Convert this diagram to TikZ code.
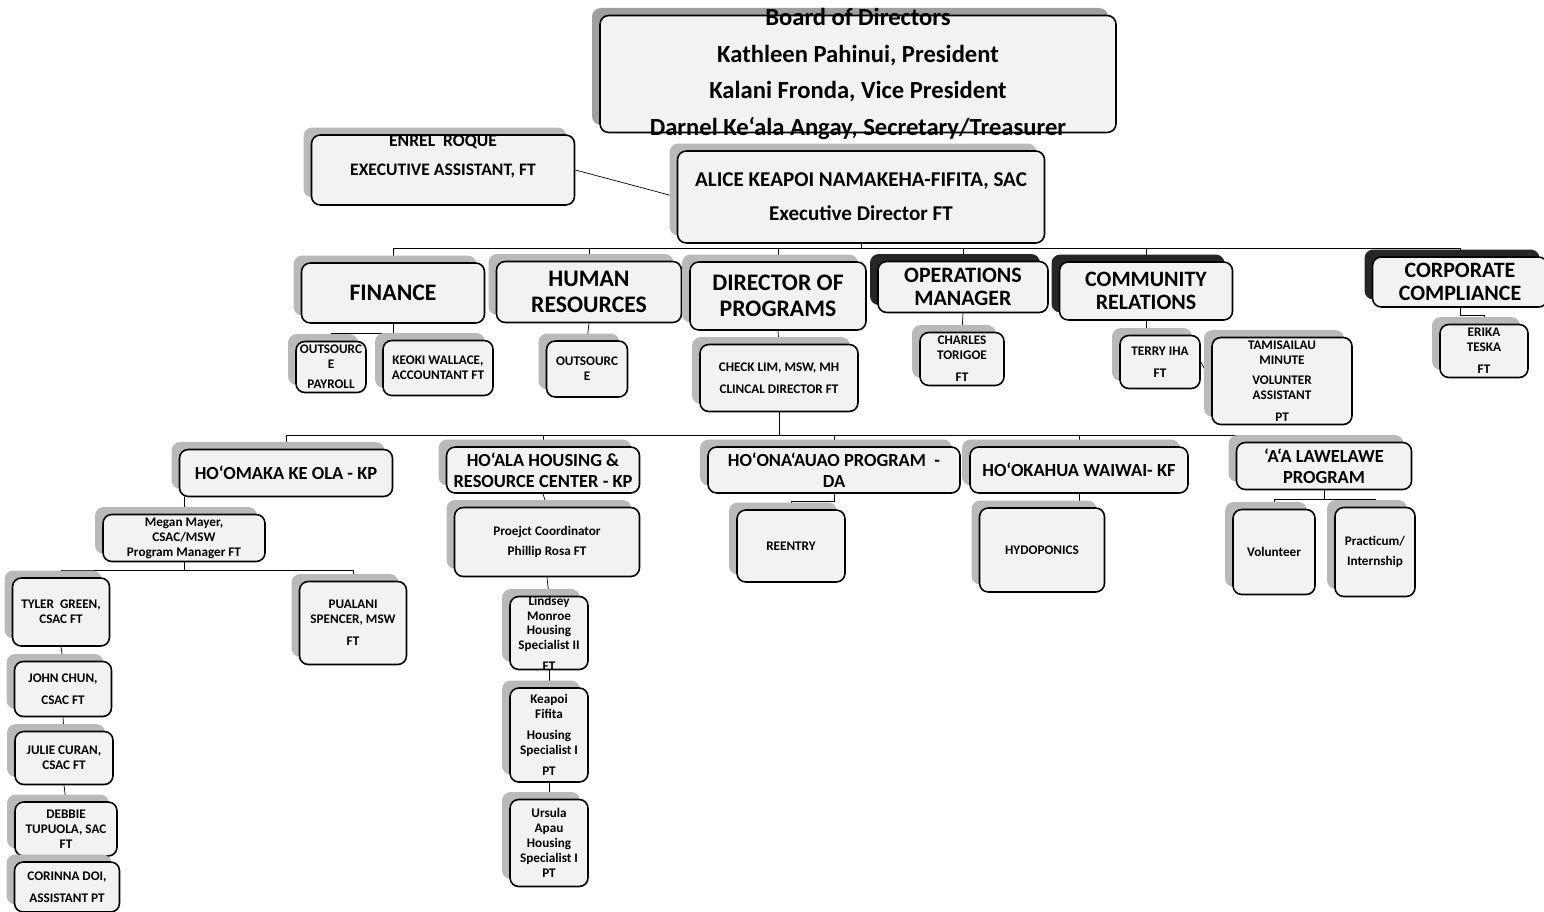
\documentclass[tikz,border=0pt]{standalone}
\usepackage{fontspec}
\setmainfont{Carlito}
\usetikzlibrary{shadows,backgrounds}
\begin{document}
\begin{tikzpicture}[x=0.02cm, y=-0.02cm,
    box/.style={draw, line width=0.9pt, rounded corners=5pt, fill=gray!10, align=center, inner sep=0pt,
      drop shadow={shadow xshift=-0.16cm, shadow yshift=0.15cm, fill=#1, opacity=1}},
    box/.default=gray!55,
    sz/.style 2 args={minimum width=#1*0.02cm, minimum height=#2*0.02cm},
    fboard/.style={font=\fontsize{14}{21}\selectfont\bfseries},
    fexec/.style={font=\fontsize{12}{19.5}\selectfont\bfseries},
    fsub/.style={font=\fontsize{10}{16.5}\selectfont\bfseries},
    flvl/.style={font=\fontsize{13.5}{15}\selectfont\bfseries},
    fmgr/.style={font=\fontsize{12.5}{13.5}\selectfont\bfseries},
    fprog/.style={font=\fontsize{10.5}{12}\selectfont\bfseries},
    fsmall/.style={font=\fontsize{7.5}{8.5}\selectfont\bfseries},
    link/.style={line width=0.85pt}]
  \useasboundingbox (0,0) rectangle (1544,912);
  % Board and executive
  \node[box=gray!75, sz={516}{117}, inner ysep=-8pt, fboard] (board) at (858,74)
    {Board of Directors\\Kathleen Pahinui, President\\Kalani Fronda, Vice President\\Darnel Ke`ala Angay, Secretary/Treasurer};
  \node[box, sz={263}{70}, inner ysep=-3pt, fsub] (enrel) at (443,170) {ENREL\ \ ROQUE\\EXECUTIVE ASSISTANT, FT\\\mbox{}};
  \node[box, sz={367}{92}, fexec] (alice) at (861,197) {ALICE KEAPOI NAMAKEHA-FIFITA, SAC\\Executive Director FT};
  % Departments
  \node[box, sz={183}{60}, flvl] (finance) at (393,293) {FINANCE};
  \node[box, sz={185}{61}, flvl] (hr) at (589,292) {HUMAN\\RESOURCES};
  \node[box, sz={176}{68}, flvl] (dirprog) at (778,296) {DIRECTOR OF\\PROGRAMS};
  \node[box=black!85, sz={170}{51}, fmgr] (ops) at (963,287) {OPERATIONS\\MANAGER};
  \node[box=black!85, sz={173}{58}, fmgr] (comm) at (1146,291) {COMMUNITY\\RELATIONS};
  \node[box=black!85, sz={175}{50}, fmgr] (corp) at (1460,282) {CORPORATE\\COMPLIANCE};
  % Department staff
  \node[box, sz={70}{51}, fsmall] (outsrc1) at (331,367) {OUTSOURC\\E\\[3pt]PAYROLL};
  \node[box, sz={110}{55}, fsmall] (keoki) at (438,368) {KEOKI WALLACE,\\ACCOUNTANT FT};
  \node[box, sz={81}{56}, fsmall] (outsrc2) at (587,369) {OUTSOURC\\E};
  \node[box, sz={158}{67}, fsmall] (checklim) at (779,378) {CHECK LIM, MSW, MH\\[4pt]CLINCAL DIRECTOR FT};
  \node[box, sz={84}{53}, fsmall] (charles) at (962,359) {CHARLES\\TORIGOE\\[4pt]FT};
  \node[box, sz={80}{53}, fsmall] (terry) at (1160,362) {TERRY IHA\\[4pt]FT};
  \node[box, sz={140}{87}, fsmall] (tamis) at (1282,381) {TAMISAILAU\\MINUTE\\[3pt]VOLUNTER\\ASSISTANT\\[4pt]PT};
  \node[box, sz={88}{53}, fsmall] (erika) at (1484,351) {ERIKA\\TESKA\\[4pt]FT};
  % Programs
  \node[box, sz={213}{47}, fprog] (homaka) at (286,473) {HO`OMAKA KE OLA - KP};
  \node[box, sz={193}{46}, fprog] (hoala) at (543,470) {HO`ALA HOUSING \&\\RESOURCE CENTER - KP};
  \node[box, sz={252}{46}, fprog] (hona) at (834,470) {HO`ONA`AUAO PROGRAM\ \ -\\DA};
  \node[box, sz={218}{46}, fprog] (hokahua) at (1079,470) {HO`OKAHUA WAIWAI- KF};
  \node[box, sz={175}{47}, fprog] (aalaw) at (1324,466) {`A`A LAWELAWE\\PROGRAM};
  % Program staff
  \node[box, sz={162}{47}, fsmall] (megan) at (184,538) {Megan Mayer,\\CSAC/MSW\\Program Manager FT};
  \node[box, sz={185}{69}, fsmall] (phillip) at (547,542) {Proejct Coordinator\\[3pt]Phillip Rosa FT};
  \node[box, sz={108}{72}, fsmall] (reentry) at (791,546) {REENTRY};
  \node[box, sz={125}{84}, fsmall] (hydro) at (1042,550) {HYDOPONICS};
  \node[box, sz={82}{85}, fsmall] (volunteer) at (1274,552) {Volunteer};
  \node[box, sz={80}{89}, fsmall] (practicum) at (1375,552) {Practicum/\\[3pt]Internship};
  \node[box, sz={97}{68}, fsmall] (tyler) at (61,612) {TYLER\ \ GREEN,\\CSAC FT};
  \node[box, sz={107}{83}, fsmall] (pualani) at (353,623) {PUALANI\\SPENCER, MSW\\[4pt]FT};
  \node[box, sz={97}{55}, fsmall] (john) at (63,689) {JOHN CHUN,\\[4pt]CSAC FT};
  \node[box, sz={98}{53}, fsmall] (julie) at (64,758) {JULIE CURAN,\\CSAC FT};
  \node[box, sz={102}{54}, fsmall] (debbie) at (66,829) {DEBBIE\\TUPUOLA, SAC\\FT};
  \node[box, sz={105}{50}, fsmall] (corinna) at (67,887) {CORINNA DOI,\\[4pt]ASSISTANT PT};
  \node[box, sz={78}{73}, inner ysep=-2pt, fsmall] (lindsey) at (549,633) {Lindsey\\Monroe\\Housing\\Specialist II\\[3pt]FT};
  \node[box, sz={78}{94}, inner ysep=-2pt, fsmall] (keapoi) at (549,735) {Keapoi\\Fifita\\[3.5pt]Housing\\Specialist I\\[3.5pt]PT};
  \node[box, sz={78}{87}, inner ysep=-2pt, fsmall] (ursula) at (549,843) {Ursula\\Apau\\Housing\\Specialist I\\PT};
  % Connectors
  \begin{scope}[on background layer, link]
    \coordinate (mainbus) at (861,248);
    \coordinate (finbus) at (393,333);
    \coordinate (progbus) at (779,435);
    \coordinate (megbus) at (184,570);
    \coordinate (aabus) at (1324,499);
    \draw (enrel.east) -- (alice.west);
    \draw (alice.south) -- (mainbus);
    \foreach \n in {finance,hr,dirprog,ops,comm,corp}
      \draw (mainbus) -| (\n.north);
    \draw (finance.south) -- (finbus);
    \foreach \n in {outsrc1,keoki}
      \draw (finbus) -| (\n.north);
    \draw (hr.south) -- (outsrc2.north);
    \draw (dirprog.south) -- (checklim.north);
    \draw (ops.south) -- (charles.north);
    \draw (comm.south) -- ++(0,8) -| (terry.north);
    \draw (terry.east) -- (tamis.west);
    \draw (corp.south) -- ++(0,8) -| (erika.north);
    \draw (checklim.south) -- (progbus);
    \foreach \n in {homaka,hoala,hona,hokahua,aalaw}
      \draw (progbus) -| (\n.north);
    \draw (megan.north) -- (megan.north |- homaka.south);
    \draw (megan.south) -- (megbus);
    \foreach \n in {tyler,pualani}
      \draw (megbus) -| (\n.north);
    \draw (hoala.south) -- (phillip.north);
    \draw (hona.south) -- ++(0,8) -| (reentry.north);
    \draw (hokahua.south) -- ++(0,8) -| (hydro.north);
    \draw (aalaw.south) -- (aabus);
    \foreach \n in {volunteer,practicum}
      \draw (aabus) -| (\n.north);
    \foreach \a/\b in {tyler/john,john/julie,julie/debbie,debbie/corinna,phillip/lindsey,lindsey/keapoi,keapoi/ursula}
      \draw (\a.south) -- (\b.north);
  \end{scope}
\end{tikzpicture}
\end{document}
